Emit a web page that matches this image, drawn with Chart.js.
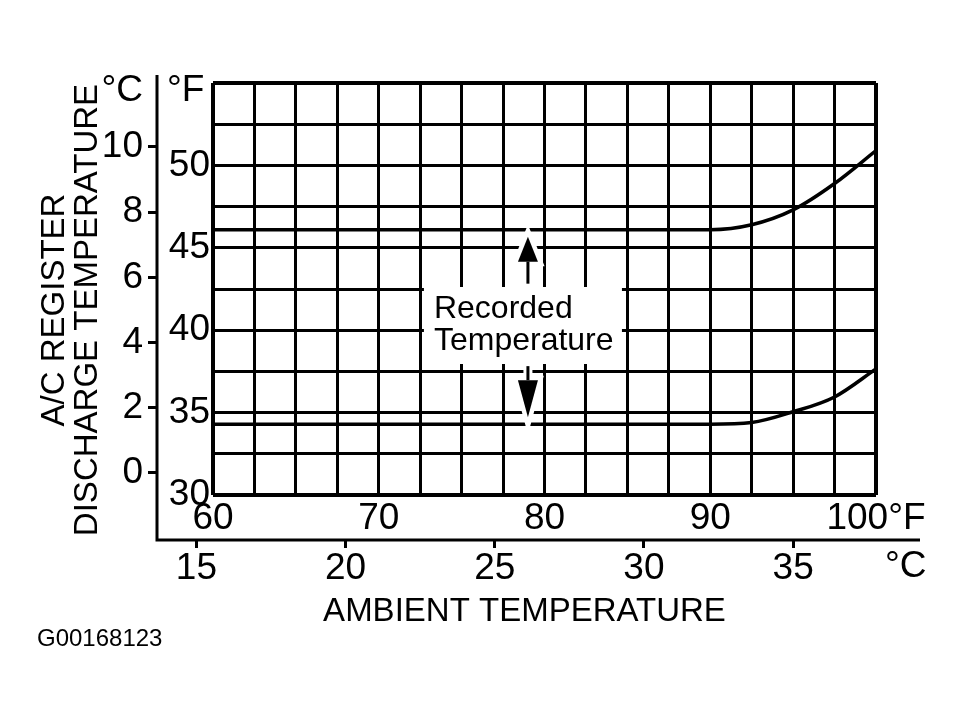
<!DOCTYPE html>
<html>
<head>
<meta charset="utf-8">
<title>A/C Register Discharge Temperature</title>
<script src="https://cdn.jsdelivr.net/npm/chart.js@4.4.1/dist/chart.umd.min.js"></script>
<style>
  html, body { margin: 0; padding: 0; background: #fff; }
  canvas { display: block; }
</style>
</head>
<body>
<canvas id="chart" width="961" height="726"></canvas>
<script>
// ambient temperature (°F) at the points
const ambientF = [60, 70, 80, 85, 90, 92.5, 95, 97.5, 100];
// register discharge temperature limits (°F)
const upperLimitF = [46.1, 46.1, 46.1, 46.1, 46.1, 46.4, 47.3, 48.9, 50.9];
const lowerLimitF = [34.3, 34.3, 34.3, 34.3, 34.3, 34.4, 35.05, 35.95, 37.65];

// tick labels
const yTicksF = [30, 35, 40, 45, 50];
const yTicksC = [0, 2, 4, 6, 8, 10];
const xTicksF = [60, 70, 80, 90, 100];
const xTicksC = [15, 20, 25, 30, 35];

const noteLines = ["Recorded", "Temperature"];
const arrowAtF = 79;

const FONT = '"Liberation Sans", Arial, sans-serif';
const tickFont = { family: FONT, size: 37, lineHeight: 1 };

const toC = (f) => (f - 32) / 1.8;

// arrow with a white halo so the grid is broken around it
function drawArrow(ctx, x, tailY, tipY, headLen, headHalf) {
  const dir = tipY < tailY ? 1 : -1;
  const baseY = tipY + dir * headLen;
  const path = () => {
    ctx.beginPath();
    ctx.moveTo(x, tipY);
    ctx.lineTo(x - headHalf, baseY);
    ctx.lineTo(x + headHalf, baseY);
    ctx.closePath();
  };
  ctx.strokeStyle = "#fff";
  ctx.lineWidth = 9;
  ctx.beginPath();
  ctx.moveTo(x, tailY);
  ctx.lineTo(x, baseY);
  ctx.stroke();
  path();
  ctx.stroke();

  ctx.strokeStyle = "#000";
  ctx.fillStyle = "#000";
  ctx.lineWidth = 3;
  ctx.beginPath();
  ctx.moveTo(x, tailY);
  ctx.lineTo(x, baseY);
  ctx.stroke();
  path();
  ctx.fill();
}

const annotate = {
  id: "annotate",
  afterDraw(chart) {
    const { ctx, chartArea: area, scales } = chart;
    const x = scales.x, y = scales.y, xC = scales.xC, yC = scales.yC;
    ctx.save();

    // outer L frame carrying the °C scales
    ctx.strokeStyle = "#000";
    ctx.lineWidth = 3;
    ctx.beginPath();
    ctx.moveTo(yC.right, area.top - 8);
    ctx.lineTo(yC.right, xC.top);
    ctx.lineTo(area.right + 44, xC.top);
    ctx.stroke();

    ctx.fillStyle = "#000";
    ctx.textBaseline = "middle";

    // unit labels
    ctx.font = "37px " + FONT;
    ctx.textAlign = "right";
    ctx.fillText("°C", yC.right - 14, area.top + 8);
    ctx.textAlign = "left";
    ctx.fillText("°F", yC.right + 10, area.top + 8);
    ctx.fillText("°C", area.right + 9, xC.top + 27);

    // axis titles
    ctx.font = "33px " + FONT;
    ctx.textAlign = "center";
    const midY = (area.top + area.bottom) / 2 + 21;
    [["A/C REGISTER", yC.left - 45], ["DISCHARGE TEMPERATURE", yC.left - 12]].forEach(([t, cx]) => {
      ctx.save();
      ctx.translate(cx, midY);
      ctx.rotate(-Math.PI / 2);
      ctx.fillText(t, 0, 0);
      ctx.restore();
    });
    ctx.fillText("AMBIENT TEMPERATURE", (area.left + area.right) / 2 - 20, xC.top + 72);

    // figure id
    ctx.font = "24px " + FONT;
    ctx.textAlign = "left";
    ctx.fillText("G00168123", 37, xC.top + 99);

    // note box
    const ax = x.getPixelForValue(arrowAtF);
    ctx.fillStyle = "#fff";
    ctx.fillRect(ax - 104, area.top + 204, 198, 77);
    ctx.fillStyle = "#000";
    ctx.font = "32px " + FONT;
    ctx.textBaseline = "alphabetic";
    ctx.fillText(noteLines[0], ax - 94, area.top + 235);
    ctx.fillText(noteLines[1], ax - 94, area.top + 267);

    // arrows pointing to the two limit lines
    const upY = y.getPixelForValue(upperLimitF[0]);
    const loY = y.getPixelForValue(lowerLimitF[0]);
    drawArrow(ctx, ax, upY + 54, upY + 7, 25, 10);
    drawArrow(ctx, ax, loY - 58, loY - 7, 37, 10);

    ctx.restore();
  }
};

const edgeWidth = (ctx) => {
  const n = ctx.scale.ticks.length;
  return ctx.index === 0 || ctx.index === n - 1 ? 4 : 3;
};

new Chart(document.getElementById("chart"), {
  type: "line",
  data: {
    datasets: [
      {
        label: "Upper limit",
        data: ambientF.map((f, i) => ({ x: f, y: upperLimitF[i] })),
        borderColor: "#000",
        borderWidth: 3.5,
        pointRadius: 0,
        cubicInterpolationMode: "monotone",
        xAxisID: "x",
        yAxisID: "y"
      },
      {
        label: "Lower limit",
        data: ambientF.map((f, i) => ({ x: f, y: lowerLimitF[i] })),
        borderColor: "#000",
        borderWidth: 3.5,
        pointRadius: 0,
        cubicInterpolationMode: "monotone",
        xAxisID: "x",
        yAxisID: "y"
      }
    ]
  },
  options: {
    responsive: false,
    animation: false,
    devicePixelRatio: 1,
    layout: { padding: { left: 100, top: 83, right: 85, bottom: 106 } },
    plugins: {
      legend: { display: false },
      tooltip: { enabled: false }
    },
    scales: {
      x: {
        type: "linear",
        position: "bottom",
        weight: 0,
        min: 60,
        max: 100,
        border: { display: false },
        grid: { color: "#000", lineWidth: edgeWidth, drawTicks: false },
        ticks: {
          stepSize: 2.5,
          autoSkip: false,
          maxRotation: 0,
          padding: 5,
          color: "#000",
          font: tickFont,
          callback: (v) => (xTicksF.includes(v) ? (v === 100 ? "100°F" : String(v)) : "")
        },
        afterFit: (s) => { s.height = 45; }
      },
      xC: {
        type: "linear",
        position: "bottom",
        weight: 1,
        bounds: "data",
        min: toC(60),
        max: toC(100),
        border: { display: false },
        grid: { drawOnChartArea: false, color: "#000", tickLength: 8, tickWidth: 3 },
        ticks: { autoSkip: false, maxRotation: 0, padding: 2, color: "#000", font: tickFont },
        afterBuildTicks: (s) => { s.ticks = xTicksC.map((v) => ({ value: v })); },
        afterFit: (s) => { s.height = 80; }
      },
      y: {
        type: "linear",
        position: "left",
        weight: 0,
        min: 30,
        max: 55,
        border: { display: false },
        grid: { color: "#000", lineWidth: edgeWidth, drawTicks: false },
        ticks: {
          stepSize: 2.5,
          autoSkip: false,
          padding: 3,
          color: "#000",
          font: tickFont,
          callback: (v) => (yTicksF.includes(v) ? String(v) : "")
        },
        afterFit: (s) => { s.width = 56; }
      },
      yC: {
        type: "linear",
        position: "left",
        weight: 1,
        bounds: "data",
        min: -0.675,
        max: 11.96,
        border: { display: false },
        grid: { drawOnChartArea: false, color: "#000", tickLength: 9, tickWidth: 3 },
        ticks: { autoSkip: false, padding: 5, color: "#000", font: tickFont },
        afterBuildTicks: (s) => { s.ticks = yTicksC.map((v) => ({ value: v })); },
        afterFit: (s) => { s.width = 57; }
      }
    }
  },
  plugins: [annotate]
});
</script>
</body>
</html>
